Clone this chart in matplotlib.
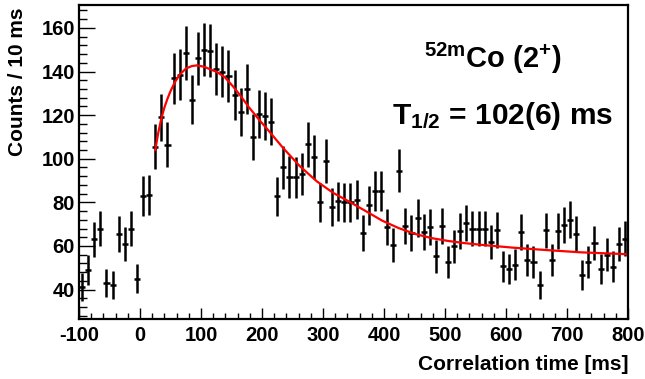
import numpy as np
import matplotlib
matplotlib.use("Agg")
import matplotlib.pyplot as plt
from matplotlib.ticker import MultipleLocator

# ---------------------------------------------------------------------
# Data (10 ms bins from -100 to 800 ms)
bin_width = 10
bin_centers = np.arange(-95, 800, bin_width)
counts = [41, 49, 63, 68, 43, 42, 65.5, 61, 68, 45,
          83, 83.5, 105.5, 119, 106.5, 137, 138.5, 148.5, 127, 146,
          150, 149.5, 141.3, 140, 137.9, 129.2, 121.6, 132, 109.9, 120.5,
          119.6, 117, 82.7, 96, 91.8, 91.4, 93.1, 106.7, 100.7, 80.1,
          98.9, 77.8, 80.4, 80, 80, 81.2, 65.9, 78.6, 85.3, 85.3,
          68.5, 60.3, 94.6, 69, 65.9, 72.8, 66.4, 68.7, 55.2, 69,
          52.7, 59.8, 67, 70.5, 68, 68, 68, 61.7, 67.5, 50.7,
          49.5, 51.4, 66.4, 53.7, 52.7, 42, 67.1, 53.7, 67, 69.7,
          72, 65.6, 46.6, 52.7, 61.4, 49.5, 56, 50.4, 60.7, 63.3]
errors = np.sqrt(counts)

# fit curve, points
fit_t = [25, 30, 35, 40, 45, 50, 57, 65, 75, 85, 93, 105, 115, 126, 139,
         153, 165, 178, 197, 208, 235, 262, 290, 317, 343, 370, 397, 424,
         451, 478, 505, 532, 560, 612, 667, 721, 800]
fit_y = [104, 112, 118.5, 123.5, 127.5, 131, 135, 138.5, 141.3, 142.5, 142.8,
         142.2, 141, 139.8, 137.4, 133, 128.8, 123.8, 117.3, 113.8, 104.8,
         96.6, 89.6, 84.3, 80.3, 76, 71.6, 68.2, 65.5, 63.6, 62.3, 61.3,
         60.5, 59.2, 58.1, 57.1, 56.2]

x_range = (-100, 800)
y_range = (26.5, 170.5)

# ---------------------------------------------------------------------
plt.rcParams['font.family'] = ['Liberation Sans', 'DejaVu Sans']
plt.rcParams['font.weight'] = 'bold'
plt.rcParams['axes.unicode_minus'] = False
plt.rcParams['mathtext.fontset'] = 'custom'
plt.rcParams['mathtext.rm'] = 'Liberation Sans:bold'
plt.rcParams['mathtext.it'] = 'Liberation Sans:bold'
plt.rcParams['mathtext.bf'] = 'Liberation Sans:bold'

fig = plt.figure(figsize=(6.45, 3.79), dpi=100)
ax = fig.add_axes([79 / 645, 1 - 319 / 379, 549 / 645, 314 / 379])

ax.errorbar(bin_centers, counts, yerr=errors, xerr=bin_width / 2,
            fmt='none', ecolor='black', elinewidth=1.8, capsize=0)
ax.plot(fit_t, fit_y, color='#ff0000', lw=1.6)

ax.set_xlim(*x_range)
ax.set_ylim(*y_range)

ax.xaxis.set_major_locator(MultipleLocator(100))
ax.xaxis.set_minor_locator(MultipleLocator(20))
ax.yaxis.set_major_locator(MultipleLocator(20))
ax.yaxis.set_minor_locator(MultipleLocator(4))

ax.tick_params(axis='both', which='both', direction='in', width=1,
               top=False, right=False, labelsize=14.5)
ax.tick_params(axis='x', which='major', length=8, pad=5)
ax.tick_params(axis='x', which='minor', length=4)
ax.tick_params(axis='y', which='major', length=11.5, pad=3)
ax.tick_params(axis='y', which='minor', length=5.8)
for lab in ax.get_xticklabels() + ax.get_yticklabels():
    lab.set_fontweight('bold')

for sp in ax.spines.values():
    sp.set_linewidth(1.6)

# axis titles, ROOT style (aligned to the axis ends)
fig.text(628 / 645, 1 - 374 / 379, 'Correlation time [ms]', ha='right',
         va='bottom', fontsize=15, fontweight='bold')
fig.text(18 / 645, 1 - 8 / 379, 'Counts / 10 ms', rotation=90, ha='center',
         va='top', fontsize=15, fontweight='bold')

# annotations
fig.text(493 / 645, 1 - 68 / 379, r'$^{52m}$Co (2$^{+}$)', ha='center',
         va='baseline', fontsize=21, fontweight='bold')
fig.text(503 / 645, 1 - 124 / 379, r'T$_{1/2}$ = 102(6) ms', ha='center',
         va='baseline', fontsize=21.5, fontweight='bold')

fig.savefig('out.png', dpi=100)
